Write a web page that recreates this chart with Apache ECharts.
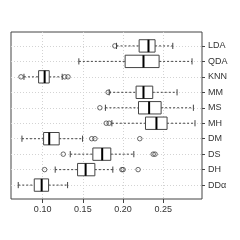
<!DOCTYPE html>
<html><head><meta charset="utf-8">
<script src="https://cdn.jsdelivr.net/npm/echarts@6/dist/echarts.min.js"></script>
<style>html,body{margin:0;padding:0;background:#fff}#c{width:240px;height:240px}</style>
</head><body><div id="c"></div>
<script>
const categories = ['LDA','QDA','KNN','MM','MS','MH','DM','DS','DH','DDα'];
const lowerWhisker = [0.1918, 0.1450, 0.0768, 0.1827, 0.1780, 0.1860, 0.0743, 0.1343, 0.1156, 0.0697];
const q1           = [0.2199, 0.2025, 0.0950, 0.2161, 0.2191, 0.2278, 0.1012, 0.1624, 0.1434, 0.0896];
const median       = [0.2315, 0.2253, 0.1025, 0.2253, 0.2323, 0.2414, 0.1082, 0.1740, 0.1534, 0.0988];
const q3           = [0.2397, 0.2447, 0.1082, 0.2368, 0.2472, 0.2546, 0.1206, 0.1847, 0.1649, 0.1074];
const upperWhisker = [0.2617, 0.2856, 0.1243, 0.2670, 0.2873, 0.2893, 0.1496, 0.2133, 0.1872, 0.1310];
const outliers = [[0.1897], [], [0.0731, 0.1275, 0.1315], [0.1814], [0.1711], [0.1790, 0.1826],
                  [0.1610, 0.1650, 0.2207], [0.1256, 0.2373, 0.2397], [0.1025, 0.1985, 0.2000, 0.2186], []];
const xTicks = [0.10, 0.15, 0.20, 0.25];

const boxData = categories.map((c, i) => [i + 1, lowerWhisker[i], q1[i], median[i], q3[i], upperWhisker[i]]);
const outlierData = [];
outliers.forEach((arr, i) => arr.forEach(v => outlierData.push([v, i + 1])));
const yTicks = categories.map((c, i) => i + 1);

const ink = '#444';
const chart = echarts.init(document.getElementById('c'), null, {renderer: 'canvas'});
chart.setOption({
  animation: false,
  backgroundColor: '#fff',
  grid: {left: 11, right: 38, top: 32, bottom: 41, show: true, borderColor: ink, borderWidth: 1, backgroundColor: 'transparent'},
  xAxis: {
    type: 'value', min: 0.0607, max: 0.298,
    axisLine: {show: false},
    axisTick: {show: true, length: 4, lineStyle: {color: ink}, customValues: xTicks},
    axisLabel: {customValues: xTicks, formatter: v => v.toFixed(2), margin: 6, fontSize: 9, color: '#333', fontFamily: 'Liberation Sans'},
    splitLine: {show: true, lineStyle: {color: '#d3d3d3', type: [1, 2], width: 1}}
  },
  yAxis: {
    type: 'value', min: 0.1, max: 10.9, inverse: true, position: 'right',
    axisLine: {show: false},
    axisTick: {show: true, length: 3, lineStyle: {color: ink}, customValues: yTicks},
    axisLabel: {customValues: yTicks, formatter: v => categories[Math.round(v) - 1] || '', margin: 6, fontSize: 9, color: '#333', fontFamily: 'Liberation Sans'},
    splitLine: {show: true, lineStyle: {color: '#d3d3d3', type: [1, 2], width: 1}}
  },
  series: [
    {
      type: 'custom',
      data: boxData,
      encode: {x: [1, 2, 3, 4, 5], y: 0},
      renderItem: function (params, api) {
        const y = api.value(0);
        const pLo = api.coord([api.value(1), y]);
        const pQ1 = api.coord([api.value(2), y]);
        const pMed = api.coord([api.value(3), y]);
        const pQ3 = api.coord([api.value(4), y]);
        const pHi = api.coord([api.value(5), y]);
        const h = api.size([0, 0.8])[1];
        const s = h * 0.25;
        const cy = pMed[1];
        const dash = {stroke: ink, lineWidth: 1, lineDash: [2, 2]};
        const solid = {stroke: ink, lineWidth: 1};
        return {
          type: 'group',
          children: [
            {type: 'line', shape: {x1: pLo[0], y1: cy, x2: pQ1[0], y2: cy}, style: dash},
            {type: 'line', shape: {x1: pQ3[0], y1: cy, x2: pHi[0], y2: cy}, style: dash},
            {type: 'line', shape: {x1: pLo[0], y1: cy - s, x2: pLo[0], y2: cy + s}, style: solid},
            {type: 'line', shape: {x1: pHi[0], y1: cy - s, x2: pHi[0], y2: cy + s}, style: solid},
            {type: 'rect', shape: {x: pQ1[0], y: cy - h / 2, width: pQ3[0] - pQ1[0], height: h}, style: {fill: '#fff', stroke: ink, lineWidth: 1}},
            {type: 'line', shape: {x1: pMed[0], y1: cy - h / 2, x2: pMed[0], y2: cy + h / 2}, style: {stroke: '#000', lineWidth: 2}}
          ]
        };
      }
    },
    {
      type: 'scatter',
      data: outlierData,
      symbol: 'circle',
      symbolSize: 4.5,
      itemStyle: {color: 'transparent', borderColor: ink, borderWidth: 1}
    }
  ]
});
</script></body></html>
